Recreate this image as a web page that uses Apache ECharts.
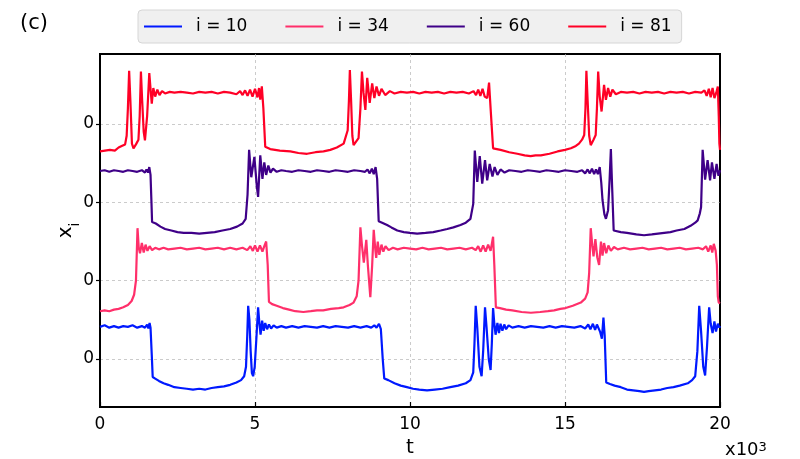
<!DOCTYPE html>
<html>
<head>
<meta charset="utf-8">
<script src="https://cdn.jsdelivr.net/npm/echarts@6/dist/echarts.min.js"></script>
<style>
html,body{margin:0;padding:0;background:#fff;}
#chart{width:800px;height:459px;}
</style>
</head>
<body>
<div id="chart"></div>
<script>
// time in units of 10^3, values relative to each trace's own zero line
const seriesNames = ['i = 10', 'i = 34', 'i = 60', 'i = 81'];
const seriesColors = ['#0019ff', '#ff2f6a', '#3f0088', '#ff0026'];
const seriesOffsets = [0, 1, 2, 3];
const yTickValues = [0, 1, 2, 3];
const yTickLabels = ['0', '0', '0', '0'];
const xTicks = [0, 5, 10, 15, 20];

const i10 = [[0,0.41],[0.15,0.43],[0.3,0.40],[0.45,0.42],[0.6,0.40],[0.75,0.42],[0.9,0.41],[1.05,0.43],[1.2,0.40],[1.35,0.42],[1.45,0.40],[1.52,0.44],[1.56,0.39],[1.6,0.46],[1.63,0.40],[1.67,0.05],[1.7,-0.23],[1.78,-0.25],[1.9,-0.28],[2.05,-0.31],[2.2,-0.33],[2.4,-0.36],[2.6,-0.37],[2.8,-0.38],[3.0,-0.39],[3.2,-0.38],[3.4,-0.39],[3.6,-0.37],[3.8,-0.36],[4.0,-0.35],[4.2,-0.33],[4.4,-0.30],[4.55,-0.27],[4.65,-0.22],[4.71,-0.1],[4.75,0.3],[4.78,0.68],[4.82,0.5],[4.86,0.1],[4.9,-0.18],[4.94,-0.22],[4.99,-0.1],[5.05,0.3],[5.1,0.66],[5.14,0.46],[5.18,0.31],[5.23,0.49],[5.28,0.36],[5.33,0.46],[5.39,0.38],[5.45,0.44],[5.52,0.39],[5.6,0.43],[5.7,0.40],[5.85,0.42],[6.0,0.40],[6.2,0.42],[6.4,0.40],[6.6,0.42],[6.8,0.41],[7.0,0.40],[7.2,0.42],[7.4,0.40],[7.6,0.42],[7.8,0.41],[8.0,0.40],[8.2,0.42],[8.4,0.40],[8.6,0.42],[8.75,0.40],[8.85,0.43],[8.92,0.40],[9.0,0.45],[9.06,0.38],[9.12,0.0],[9.17,-0.25],[9.3,-0.27],[9.5,-0.31],[9.7,-0.34],[9.9,-0.36],[10.1,-0.38],[10.3,-0.39],[10.55,-0.40],[10.8,-0.39],[11.05,-0.38],[11.3,-0.36],[11.55,-0.34],[11.8,-0.31],[11.95,-0.27],[12.04,-0.17],[12.08,0.2],[12.12,0.68],[12.17,0.4],[12.24,-0.1],[12.31,-0.22],[12.36,0.1],[12.42,0.66],[12.47,0.4],[12.54,0.0],[12.6,-0.14],[12.64,0.2],[12.68,0.65],[12.72,0.45],[12.76,0.31],[12.82,0.46],[12.87,0.33],[12.92,0.45],[12.98,0.36],[13.04,0.44],[13.1,0.38],[13.18,0.43],[13.3,0.40],[13.5,0.42],[13.7,0.40],[13.9,0.42],[14.1,0.41],[14.3,0.40],[14.5,0.42],[14.7,0.40],[14.9,0.42],[15.1,0.41],[15.3,0.40],[15.5,0.42],[15.65,0.39],[15.75,0.44],[15.82,0.38],[15.9,0.45],[15.97,0.37],[16.03,0.44],[16.08,0.46],[16.13,0.35],[16.19,0.26],[16.24,0.53],[16.28,0.3],[16.33,-0.30],[16.45,-0.32],[16.6,-0.34],[16.8,-0.36],[17.0,-0.39],[17.2,-0.40],[17.4,-0.41],[17.55,-0.42],[17.7,-0.41],[17.9,-0.40],[18.1,-0.39],[18.3,-0.37],[18.5,-0.36],[18.7,-0.34],[18.96,-0.31],[19.1,-0.27],[19.2,-0.22],[19.27,0.1],[19.33,0.68],[19.39,0.35],[19.46,-0.1],[19.52,-0.21],[19.58,0.15],[19.65,0.66],[19.7,0.45],[19.76,0.33],[19.82,0.48],[19.87,0.35],[19.93,0.45],[19.98,0.40],[20,0.42]];

const i34 = [[0,-0.39],[0.15,-0.38],[0.3,-0.39],[0.45,-0.37],[0.6,-0.36],[0.75,-0.34],[0.9,-0.31],[1.02,-0.26],[1.1,-0.18],[1.16,0.0],[1.21,0.67],[1.25,0.42],[1.29,0.35],[1.35,0.48],[1.41,0.36],[1.47,0.46],[1.53,0.38],[1.6,0.44],[1.68,0.39],[1.78,0.42],[1.9,0.40],[2.05,0.42],[2.2,0.40],[2.4,0.41],[2.6,0.42],[2.8,0.40],[3.0,0.41],[3.2,0.42],[3.4,0.40],[3.6,0.41],[3.8,0.42],[4.0,0.40],[4.2,0.42],[4.4,0.40],[4.6,0.42],[4.75,0.39],[4.85,0.44],[4.93,0.38],[5.0,0.45],[5.08,0.37],[5.16,0.45],[5.24,0.37],[5.3,0.44],[5.36,0.50],[5.41,0.2],[5.45,-0.27],[5.55,-0.30],[5.7,-0.32],[5.9,-0.35],[6.1,-0.37],[6.3,-0.39],[6.56,-0.40],[6.8,-0.39],[7.0,-0.38],[7.2,-0.38],[7.45,-0.36],[7.7,-0.35],[7.86,-0.34],[8.05,-0.31],[8.18,-0.28],[8.28,-0.2],[8.34,0.0],[8.40,0.68],[8.45,0.45],[8.51,0.23],[8.59,0.52],[8.64,0.2],[8.72,-0.21],[8.78,0.2],[8.83,0.65],[8.88,0.40],[8.91,0.29],[8.96,0.50],[9.01,0.33],[9.08,0.46],[9.14,0.37],[9.21,0.44],[9.31,0.39],[9.45,0.42],[9.6,0.40],[9.8,0.42],[10.0,0.41],[10.2,0.40],[10.4,0.42],[10.6,0.40],[10.8,0.41],[11.0,0.42],[11.2,0.40],[11.4,0.41],[11.6,0.42],[11.8,0.40],[12.0,0.42],[12.12,0.39],[12.2,0.44],[12.28,0.37],[12.36,0.45],[12.44,0.37],[12.52,0.46],[12.6,0.38],[12.68,0.56],[12.72,0.2],[12.77,-0.34],[12.9,-0.35],[13.1,-0.37],[13.3,-0.38],[13.6,-0.40],[13.9,-0.41],[14.2,-0.40],[14.45,-0.39],[14.65,-0.38],[14.85,-0.36],[15.02,-0.35],[15.25,-0.32],[15.51,-0.28],[15.65,-0.23],[15.73,-0.15],[15.78,0.1],[15.83,0.67],[15.88,0.45],[15.92,0.31],[15.98,0.53],[16.04,0.3],[16.10,0.20],[16.16,0.50],[16.21,0.32],[16.26,0.48],[16.33,0.35],[16.4,0.45],[16.48,0.38],[16.58,0.43],[16.7,0.40],[16.9,0.42],[17.1,0.40],[17.3,0.41],[17.5,0.42],[17.7,0.40],[17.9,0.41],[18.1,0.42],[18.3,0.40],[18.5,0.41],[18.7,0.42],[18.9,0.40],[19.1,0.41],[19.3,0.42],[19.45,0.40],[19.55,0.44],[19.62,0.37],[19.7,0.45],[19.75,0.36],[19.8,0.47],[19.86,0.38],[19.9,0.2],[19.93,-0.2],[19.96,-0.28],[20,-0.29]];

const i60 = [[0,0.40],[0.15,0.41],[0.3,0.39],[0.45,0.41],[0.6,0.40],[0.75,0.39],[0.9,0.41],[1.05,0.40],[1.2,0.39],[1.35,0.41],[1.45,0.38],[1.5,0.42],[1.55,0.38],[1.59,0.45],[1.63,0.35],[1.66,0.0],[1.68,-0.25],[1.8,-0.27],[1.95,-0.31],[2.1,-0.34],[2.3,-0.36],[2.5,-0.38],[2.7,-0.39],[2.95,-0.39],[3.2,-0.40],[3.45,-0.39],[3.7,-0.38],[3.95,-0.36],[4.2,-0.34],[4.42,-0.31],[4.6,-0.27],[4.7,-0.21],[4.76,0.1],[4.81,0.67],[4.88,0.32],[4.98,0.58],[5.06,0.2],[5.10,0.07],[5.17,0.60],[5.24,0.30],[5.30,0.51],[5.36,0.35],[5.43,0.47],[5.50,0.38],[5.58,0.43],[5.7,0.39],[5.85,0.41],[6.0,0.40],[6.2,0.39],[6.4,0.41],[6.6,0.40],[6.8,0.39],[7.0,0.41],[7.2,0.40],[7.4,0.39],[7.6,0.41],[7.8,0.40],[8.0,0.39],[8.2,0.41],[8.4,0.40],[8.55,0.39],[8.63,0.42],[8.7,0.37],[8.77,0.43],[8.83,0.36],[8.89,0.45],[8.94,0.3],[8.99,-0.24],[9.1,-0.26],[9.26,-0.29],[9.4,-0.32],[9.59,-0.36],[9.8,-0.38],[10.0,-0.39],[10.23,-0.40],[10.5,-0.39],[10.75,-0.38],[10.99,-0.36],[11.2,-0.34],[11.4,-0.32],[11.63,-0.29],[11.8,-0.26],[11.95,-0.21],[12.04,-0.02],[12.09,0.66],[12.17,0.26],[12.25,0.59],[12.33,0.24],[12.42,0.54],[12.49,0.28],[12.57,0.49],[12.66,0.33],[12.73,0.45],[12.82,0.35],[12.92,0.42],[13.05,0.38],[13.2,0.41],[13.4,0.40],[13.6,0.39],[13.8,0.41],[14.0,0.40],[14.2,0.39],[14.4,0.41],[14.6,0.40],[14.8,0.39],[15.0,0.41],[15.2,0.40],[15.4,0.39],[15.55,0.41],[15.65,0.37],[15.73,0.42],[15.8,0.37],[15.87,0.43],[15.94,0.36],[16.0,0.42],[16.06,0.36],[16.12,0.45],[16.17,0.25],[16.21,0.03],[16.27,-0.15],[16.32,-0.21],[16.39,-0.10],[16.44,0.3],[16.48,0.68],[16.52,0.2],[16.57,-0.36],[16.8,-0.38],[17.0,-0.39],[17.3,-0.41],[17.55,-0.42],[17.8,-0.41],[18.0,-0.40],[18.2,-0.39],[18.4,-0.38],[18.6,-0.36],[18.85,-0.34],[19.05,-0.30],[19.2,-0.26],[19.28,-0.23],[19.35,-0.14],[19.39,-0.06],[19.44,0.67],[19.52,0.29],[19.6,0.54],[19.68,0.28],[19.74,0.51],[19.82,0.30],[19.89,0.49],[19.95,0.34],[20,0.41]];

const i81 = [[0,-0.35],[0.16,-0.34],[0.32,-0.33],[0.48,-0.34],[0.6,-0.30],[0.7,-0.28],[0.81,-0.26],[0.86,-0.15],[0.9,0.2],[0.94,0.68],[0.98,0.3],[1.03,-0.25],[1.08,-0.31],[1.16,-0.26],[1.24,-0.20],[1.28,0.1],[1.32,0.67],[1.36,0.3],[1.41,-0.1],[1.45,-0.21],[1.52,0.1],[1.59,0.65],[1.64,0.4],[1.67,0.26],[1.72,0.46],[1.78,0.35],[1.85,0.44],[1.92,0.37],[2.0,0.42],[2.1,0.39],[2.25,0.41],[2.4,0.40],[2.6,0.41],[2.8,0.40],[3.0,0.39],[3.2,0.41],[3.4,0.40],[3.6,0.41],[3.8,0.39],[4.0,0.41],[4.2,0.40],[4.4,0.38],[4.52,0.42],[4.6,0.37],[4.68,0.43],[4.76,0.36],[4.84,0.44],[4.92,0.35],[5.0,0.45],[5.08,0.34],[5.13,0.46],[5.17,0.31],[5.22,0.48],[5.27,0.2],[5.33,-0.29],[5.49,-0.32],[5.8,-0.34],[6.14,-0.35],[6.4,-0.37],[6.68,-0.38],[6.95,-0.36],[7.21,-0.35],[7.43,-0.33],[7.64,-0.30],[7.86,-0.25],[7.99,-0.08],[8.03,0.3],[8.06,0.69],[8.1,0.3],[8.14,-0.15],[8.18,-0.27],[8.34,-0.18],[8.4,0.2],[8.45,0.67],[8.5,0.4],[8.56,0.18],[8.62,0.59],[8.70,0.27],[8.78,0.52],[8.85,0.33],[8.92,0.48],[9.0,0.36],[9.08,0.45],[9.2,0.37],[9.35,0.42],[9.5,0.39],[9.7,0.41],[9.9,0.40],[10.1,0.41],[10.3,0.39],[10.5,0.41],[10.7,0.40],[10.9,0.41],[11.1,0.39],[11.3,0.41],[11.5,0.40],[11.7,0.41],[11.9,0.39],[12.05,0.42],[12.13,0.37],[12.2,0.44],[12.27,0.36],[12.34,0.45],[12.41,0.35],[12.49,0.33],[12.55,0.53],[12.6,0.2],[12.68,-0.31],[12.92,-0.33],[13.2,-0.36],[13.46,-0.38],[13.7,-0.40],[13.89,-0.41],[14.05,-0.40],[14.22,-0.40],[14.5,-0.38],[14.76,-0.35],[15.0,-0.33],[15.19,-0.31],[15.35,-0.28],[15.45,-0.25],[15.55,-0.20],[15.62,-0.14],[15.66,0.2],[15.69,0.68],[15.73,0.3],[15.78,-0.15],[15.83,-0.27],[15.92,-0.20],[15.99,-0.14],[16.03,0.2],[16.07,0.67],[16.12,0.35],[16.18,0.16],[16.26,0.50],[16.32,0.31],[16.39,0.46],[16.46,0.35],[16.53,0.44],[16.64,0.38],[16.8,0.41],[17.0,0.40],[17.2,0.41],[17.4,0.39],[17.6,0.41],[17.8,0.40],[18.0,0.41],[18.2,0.39],[18.4,0.41],[18.6,0.40],[18.8,0.41],[19.0,0.39],[19.2,0.41],[19.4,0.40],[19.5,0.43],[19.57,0.36],[19.64,0.45],[19.7,0.34],[19.76,0.46],[19.82,0.33],[19.88,0.40],[19.93,0.48],[19.96,0.1],[19.98,-0.25],[20,-0.33]];

const traces = [i10, i34, i60, i81];
const FONT = 'DejaVu Sans';

const chart = echarts.init(document.getElementById('chart'), null, {renderer: 'canvas'});

const series = traces.map((tr, k) => ({
  name: seriesNames[k],
  type: 'line',
  data: tr.map(p => [p[0], p[1] + seriesOffsets[k]]),
  showSymbol: false,
  symbol: 'none',
  smooth: false,
  clip: true,
  lineStyle: {color: seriesColors[k], width: 2.2},
  itemStyle: {color: seriesColors[k]},
  z: 3
}));

chart.setOption({
  animation: false,
  backgroundColor: '#ffffff',
  textStyle: {fontFamily: FONT},
  title: {
    text: '(c)', left: 15, top: 8,
    textStyle: {fontFamily: FONT, fontSize: 21, fontWeight: 'normal', color: '#000'}
  },
  legend: {
    data: seriesNames,
    left: 138, top: 10,
    orient: 'horizontal',
    icon: 'rect',
    itemWidth: 38, itemHeight: 2,
    itemGap: 38,
    padding: [8, 10, 8, 6],
    backgroundColor: '#f0f0f0',
    borderColor: '#d6d6d6',
    borderWidth: 1,
    borderRadius: 4,
    textStyle: {fontFamily: FONT, fontSize: 17, color: '#000', padding: [0, 0, 0, 9]}
  },
  grid: {
    left: 100, right: 80, top: 54, bottom: 52,
    show: true, borderColor: '#000', borderWidth: 2,
    containLabel: false,
    outerBoundsMode: 'none'
  },
  xAxis: {
    type: 'value', min: xTicks[0], max: xTicks[xTicks.length - 1], interval: 5,
    name: 't', nameLocation: 'middle', nameGap: 24,
    nameTextStyle: {fontFamily: FONT, fontSize: 20, color: '#000'},
    axisLine: {show: true, onZero: false, lineStyle: {color: '#000', width: 2}},
    axisTick: {show: true, inside: true, length: 5, lineStyle: {color: '#000', width: 1.2}},
    axisLabel: {fontFamily: FONT, fontSize: 17, color: '#000', margin: 9},
    splitLine: {show: true, showMinLine: false, showMaxLine: false, lineStyle: {color: '#b5b5b5', width: 0.7, type: [3, 3]}}
  },
  yAxis: {
    type: 'value', min: -0.613, max: 3.894,
    name: 'x{s|i}', nameLocation: 'middle', nameGap: 24, nameRotate: 90,
    nameMoveOverlap: false,
    nameTextStyle: {fontFamily: FONT, fontSize: 20, color: '#000',
      rich: {s: {fontFamily: FONT, fontSize: 14, color: '#000', verticalAlign: 'bottom', padding: [0, 0, -6, 0]}}},
    axisLine: {show: true, onZero: false, lineStyle: {color: '#000', width: 2}},
    axisTick: {show: true, inside: false, length: 4, customValues: yTickValues, lineStyle: {color: '#000', width: 1.2}},
    axisLabel: {fontFamily: FONT, fontSize: 17, color: '#000', margin: 6, padding: [3, 0, 0, 0], customValues: yTickValues,
      formatter: (v) => { const idx = yTickValues.indexOf(Math.round(v)); return idx >= 0 ? yTickLabels[idx] : ''; }},
    splitLine: {show: true, lineStyle: {color: '#b5b5b5', width: 0.7, type: [3, 3]}}
  },
  graphic: [{
    type: 'text', left: 725, top: 441, z: 10,
    style: {
      text: '{a|x10}{b|3}',
      rich: {
        a: {fontFamily: FONT, fontSize: 18, fill: '#000', verticalAlign: 'bottom'},
        b: {fontFamily: FONT, fontSize: 13, fill: '#000', verticalAlign: 'top'}
      }
    }
  }],
  series: series
});
</script>
</body>
</html>
